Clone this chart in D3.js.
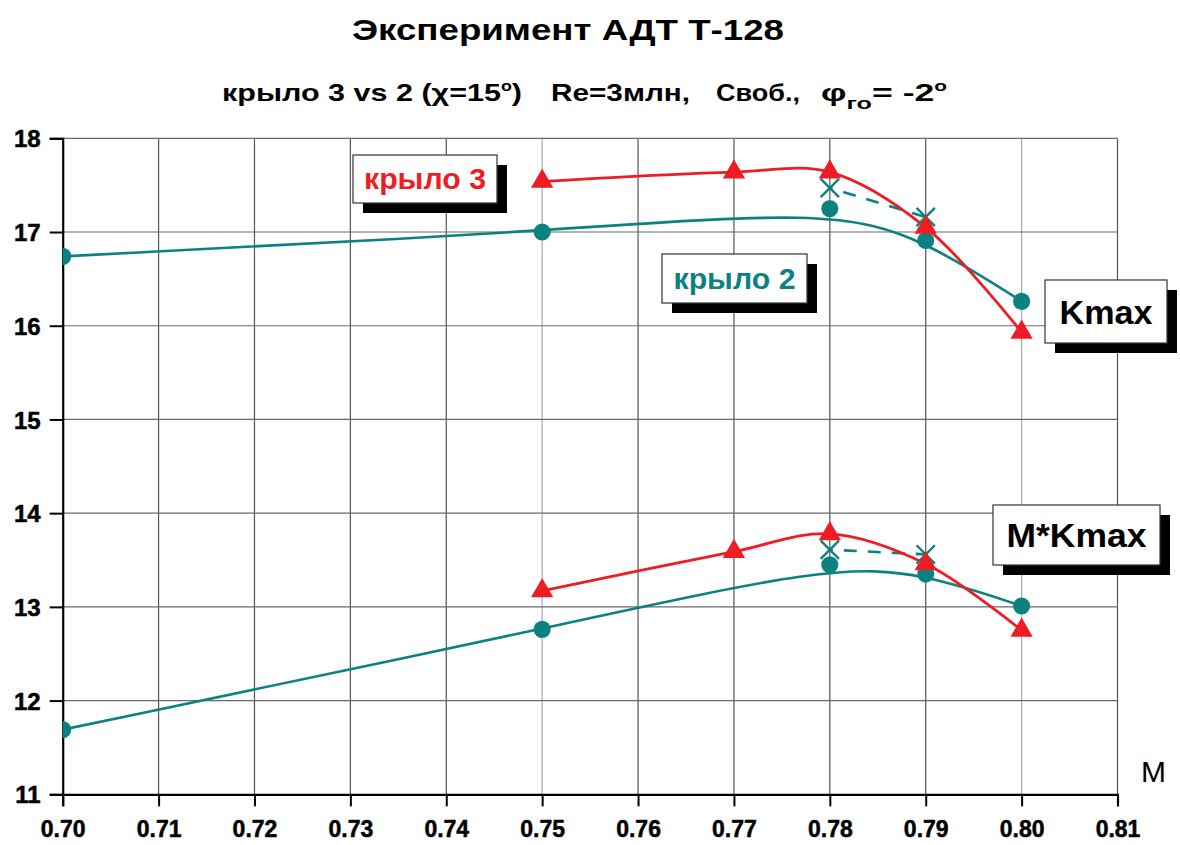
<!DOCTYPE html>
<html>
<head>
<meta charset="utf-8">
<script src="https://cdn.jsdelivr.net/npm/d3@7/dist/d3.min.js"></script>
<style>
  html, body { margin: 0; padding: 0; background: #fff; }
  svg { display: block; font-family: "Liberation Sans", Arial, sans-serif; }
</style>
</head>
<body>
<svg id="chart" width="1180" height="845"></svg>
<script>
// Mach numbers and measured values (Kmax and M*Kmax) for both wings
const xTicks = [0.70, 0.71, 0.72, 0.73, 0.74, 0.75, 0.76, 0.77, 0.78, 0.79, 0.80, 0.81];
const yTicks = [11, 12, 13, 14, 15, 16, 17, 18];

const machWing2 = [0.70, 0.75, 0.78, 0.79, 0.80];
const kmaxWing2 = [16.74, 17.00, 17.25, 16.91, 16.26];
const mkWing2   = [11.69, 12.76, 13.45, 13.35, 13.01];

const machWing3 = [0.75, 0.77, 0.78, 0.79, 0.80];
const kmaxWing3 = [17.54, 17.64, 17.64, 17.05, 15.93];
const mkWing3   = [13.17, 13.59, 13.78, 13.46, 12.75];

// repeat points (cross markers, dashed)
const machRepeat = [0.78, 0.79];
const kmaxRepeat = [17.47, 17.16];
const mkRepeat   = [13.61, 13.56];

const RED = "#ee1c25";
const TEAL = "#0b8281";

const svg = d3.select("#chart");
const pLeft = 62.7, pRight = 1117.5, pTop = 138.3, pBottom = 794.3;

const x = d3.scaleLinear().domain([0.70, 0.81]).range([pLeft, pRight]);
const y = d3.scaleLinear().domain([11, 18]).range([pBottom, pTop]);

// titles
svg.append("text")
  .attr("x", 568).attr("y", 40)
  .attr("text-anchor", "middle")
  .attr("font-size", 30).attr("font-weight", "bold")
  .attr("textLength", 432).attr("lengthAdjust", "spacingAndGlyphs")
  .text("Эксперимент  АДТ Т-128");

// subtitle, drawn as four spaced groups
const subY = 101;
function subText(x0, w) {
  return svg.append("text").attr("x", x0).attr("y", subY)
    .attr("font-size", 24).attr("font-weight", "bold")
    .attr("textLength", w).attr("lengthAdjust", "spacingAndGlyphs");
}
const s1 = subText(222, 300);
s1.append("tspan").text("крыло 3 vs 2 (χ=15");
s1.append("tspan").attr("dy", -10).attr("font-size", 14).text("o");
s1.append("tspan").attr("dy", 10).text(")");
subText(551, 139).text("Re=3млн,");
subText(716, 84).text("Своб.,");
const s4 = subText(821, 126);
s4.append("tspan").text("φ");
s4.append("tspan").attr("dy", 8).attr("font-size", 17).text("го");
s4.append("tspan").attr("dy", -8).text("= -2");
s4.append("tspan").attr("dy", -10).attr("font-size", 14).text("o");

// grid
const grid = svg.append("g");
grid.selectAll("line.v").data(xTicks.slice(1)).join("line")
  .attr("x1", d => x(d)).attr("x2", d => x(d))
  .attr("y1", pTop).attr("y2", pBottom)
  .attr("stroke", d => (Math.abs(d - 0.75) < 1e-9 || Math.abs(d - 0.80) < 1e-9) ? "#a8a8a8" : "#555")
  .attr("stroke-width", 1.2);
grid.selectAll("line.h").data(yTicks.slice(1)).join("line")
  .attr("x1", pLeft).attr("x2", pRight)
  .attr("y1", d => y(d)).attr("y2", d => y(d))
  .attr("stroke", "#6a6a6a").attr("stroke-width", 1.2);

// axes
const xAxis = svg.append("g").attr("transform", `translate(0,${pBottom})`)
  .call(d3.axisBottom(x).tickValues(xTicks).tickFormat(d3.format(".2f")).tickSizeOuter(0).tickSize(12));
const yAxis = svg.append("g").attr("transform", `translate(${pLeft},0)`)
  .call(d3.axisLeft(y).tickValues(yTicks).tickFormat(d3.format("d")).tickSizeOuter(0).tickSize(13).tickPadding(9));
[xAxis, yAxis].forEach(a => {
  a.select(".domain").attr("stroke", "#000").attr("stroke-width", 2.2);
  a.selectAll(".tick line").attr("stroke", "#000").attr("stroke-width", 2);
  a.selectAll(".tick text").attr("fill", "#000").attr("font-weight", "bold")
    .attr("stroke", "#000").attr("stroke-width", 0.5)
    .attr("font-family", "Liberation Sans, Arial, sans-serif");
});
xAxis.selectAll(".tick text").attr("font-size", 23).attr("y", 43).attr("dy", 0);
yAxis.selectAll(".tick text").attr("font-size", 24).attr("dy", "0.36em");

svg.append("text").attr("x", 1141).attr("y", 782)
  .attr("font-size", 30).text("M");

// plot clip
svg.append("clipPath").attr("id", "plot")
  .append("rect").attr("x", pLeft).attr("y", pTop - 30).attr("width", pRight - pLeft + 30).attr("height", pBottom - pTop + 60);

const plot = svg.append("g").attr("clip-path", "url(#plot)");

const pts = (xs, ys) => xs.map((m, i) => [m, ys[i]]);
const lineBasis = d3.line().x(d => x(d[0])).y(d => y(d[1])).curve(d3.curveBasis);
const lineCR = d3.line().x(d => x(d[0])).y(d => y(d[1])).curve(d3.curveCatmullRom.alpha(0.5));
const lineLin = d3.line().x(d => x(d[0])).y(d => y(d[1]));

// wing 2: smoothed trend through the measurements
[kmaxWing2, mkWing2].forEach(v => {
  plot.append("path").attr("d", lineBasis(pts(machWing2, v)))
    .attr("fill", "none").attr("stroke", TEAL).attr("stroke-width", 2.6);
});
// repeat runs: dashed
[kmaxRepeat, mkRepeat].forEach(v => {
  plot.append("path").attr("d", lineLin(pts(machRepeat, v)))
    .attr("fill", "none").attr("stroke", TEAL).attr("stroke-width", 2.6)
    .attr("stroke-dasharray", "13,11").attr("stroke-dashoffset", -14);
});
// wing 3
[kmaxWing3, mkWing3].forEach(v => {
  plot.append("path").attr("d", lineCR(pts(machWing3, v)))
    .attr("fill", "none").attr("stroke", RED).attr("stroke-width", 2.8);
});

// markers
const circ = d3.symbol().type(d3.symbolCircle).size(230);
const tri = d3.symbol().type(d3.symbolTriangle).size(215);
const cross = d3.symbol().type(d3.symbolX).size(220);

[kmaxRepeat, mkRepeat].forEach(v => {
  plot.selectAll(null).data(pts(machRepeat, v)).join("path")
    .attr("transform", d => `translate(${x(d[0])},${y(d[1])})`)
    .attr("d", cross).attr("fill", "none").attr("stroke", TEAL).attr("stroke-width", 2.4);
});
[kmaxWing2, mkWing2].forEach(v => {
  plot.selectAll(null).data(pts(machWing2, v)).join("path")
    .attr("transform", d => `translate(${x(d[0])},${y(d[1])})`)
    .attr("d", circ).attr("fill", TEAL);
});
[kmaxWing3, mkWing3].forEach(v => {
  plot.selectAll(null).data(pts(machWing3, v)).join("path")
    .attr("transform", d => `translate(${x(d[0])},${y(d[1])})`)
    .attr("d", tri).attr("fill", RED);
});

// boxed labels with drop shadow
const labels = [
  { text: "крыло 3", color: RED,  x: 353,  y: 155, w: 144, h: 48, size: 29, tw: 122 },
  { text: "крыло 2", color: TEAL, x: 662,  y: 254, w: 145, h: 49, size: 29, tw: 122 },
  { text: "Kmax",    color: "#000", x: 1045, y: 280, w: 122, h: 63, size: 34, tw: 93 },
  { text: "M*Kmax",  color: "#000", x: 993,  y: 505, w: 167, h: 60, size: 34, tw: 140 }
];
labels.forEach(l => {
  const g = svg.append("g");
  g.append("rect").attr("x", l.x + 10).attr("y", l.y + 10).attr("width", l.w).attr("height", l.h).attr("fill", "#000");
  g.append("rect").attr("x", l.x).attr("y", l.y).attr("width", l.w).attr("height", l.h)
    .attr("fill", "#fff").attr("stroke", "#333").attr("stroke-width", 1.2);
  g.append("text").attr("x", l.x + l.w / 2).attr("y", l.y + l.h / 2)
    .attr("text-anchor", "middle").attr("dy", "0.36em")
    .attr("font-size", l.size).attr("font-weight", "bold").attr("fill", l.color)
    .attr("textLength", l.tw).attr("lengthAdjust", "spacingAndGlyphs")
    .text(l.text);
});
</script>
</body>
</html>
